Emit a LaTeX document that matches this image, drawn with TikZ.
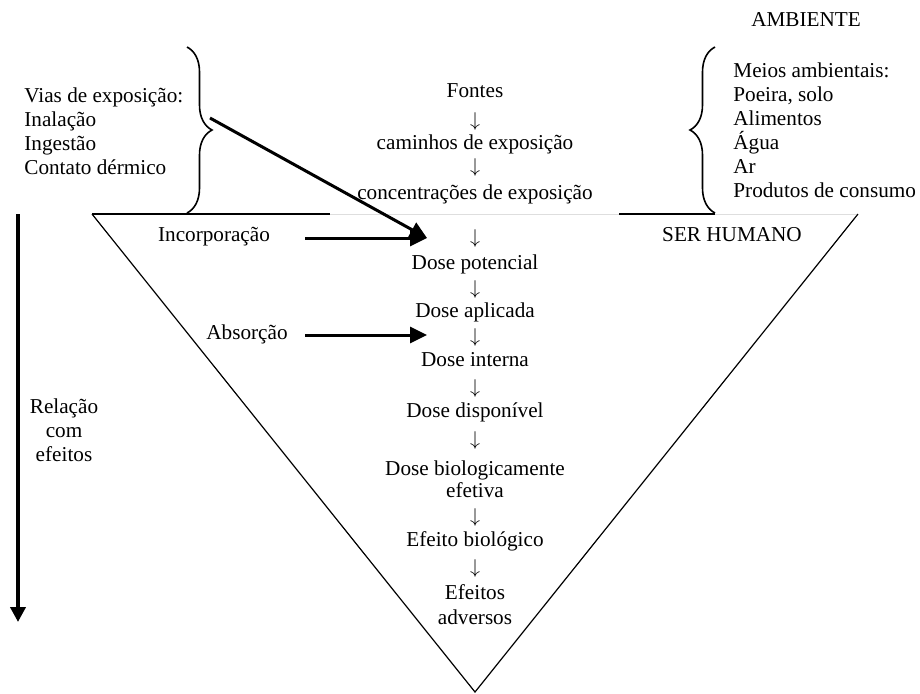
\documentclass[tikz,border=0pt]{standalone}
\usepackage{fontspec}
\setmainfont{Liberation Serif}
\usetikzlibrary{arrows.meta,decorations.pathreplacing}
\begin{document}
\begin{tikzpicture}[x=0.5pt,y=-0.5pt,
  txt/.style={inner sep=0pt, font=\fontsize{10.6}{12}\selectfont,
              text height=0.68em, text depth=0.2em},
  mtxt/.style={inner sep=0pt, font=\fontsize{10.6}{12}\selectfont},
  lbl/.style={mtxt, align=center},
  dn/.style={inner sep=0pt, font=\fontsize{10.4}{12}\selectfont},
  side/.style={line width=0.6pt},
  rim/.style={line width=1pt},
  faint/.style={draw=black!13, line width=0.5pt},
  bracket/.style={line width=0.8pt, decorate,
                  decoration={brace, amplitude=12.5pt}},
  bigarrow/.style={line width=1.5pt, -{Triangle[length=8.5pt,width=8pt]}},
  sidearrow/.style={line width=2pt, -{Triangle[length=7.5pt,width=7.5pt]}}]
\useasboundingbox (0,0) rectangle (920,693);

% inverted triangle for the human body
\coordinate (tl) at (92,214);
\coordinate (tr) at (858,214);
\coordinate (apex) at (475,692);
\coordinate (gapL) at (330,214);
\coordinate (gapR) at (619,214);
\coordinate (braceR) at (715,214);
\draw[faint] (gapL) -- (tr);
\draw[side] (tl) -- (apex) -- (tr);
\draw[rim] (tl) -- (gapL);
\draw[rim] (gapR) -- (braceR);

% braces grouping the routes and the media
\draw[bracket] (187,47) -- (187,213);
\draw[bracket] (715,213) -- (715,47);

% side texts
\node[txt] (amb) at (806,22) {AMBIENTE};
\node[mtxt, align=left, anchor=west] (vias) at (24,131)
  {Vias de exposição:\\Inalação\\Ingestão\\Contato dérmico};
\node[mtxt, align=left, anchor=west] (meios) at (733,130)
  {Meios ambientais:\\Poeira, solo\\Alimentos\\Água\\Ar\\Produtos de consumo};
\node[txt] (ser) at (732,237) {SER HUMANO};
\node[txt] (inc) at (214,237) {Incorporação};
\node[txt] (abs) at (247,335) {Absorção};
\node[lbl] (rel) at (64,430) {Relação\\com\\efeitos};

% central chain
\node[txt] (fontes) at (475,93) {Fontes};
\node[dn] (a1) at (475,121) {$\downarrow$};
\node[txt] (cam) at (475,145) {caminhos de exposição};
\node[dn] (a2) at (475,167) {$\downarrow$};
\node[txt] (conc) at (475,195) {concentrações de exposição};
\node[dn] (a3) at (475,238) {$\downarrow$};
\node[txt] (pot) at (475,265) {Dose potencial};
\node[dn] (a4) at (475,289) {$\downarrow$};
\node[txt] (apl) at (475,313) {Dose aplicada};
\node[dn] (a5) at (475,337) {$\downarrow$};
\node[txt] (int) at (475,362) {Dose interna};
\node[dn] (a6) at (475,388) {$\downarrow$};
\node[txt] (disp) at (475,413) {Dose disponível};
\node[dn] (a7) at (475,440) {$\downarrow$};
\node[lbl, font=\fontsize{10.6}{11}\selectfont] (bio) at (475,479) {Dose biologicamente\\efetiva};
\node[dn] (a8) at (475,517) {$\downarrow$};
\node[txt] (efb) at (475,542) {Efeito biológico};
\node[dn] (a9) at (475,568) {$\downarrow$};
\node[lbl, font=\fontsize{10.6}{12.5}\selectfont] (adv) at (475,605) {Efeitos\\adversos};

% arrows
\coordinate (viaStart) at (210,118);
\coordinate (incTip) at (427,238);
\coordinate (incStart) at (305,238);
\coordinate (absStart) at (305,335);
\coordinate (absTip) at (427,335);
\coordinate (relTop) at (18,214);
\coordinate (relEnd) at (18,622);
\draw[bigarrow] (viaStart) -- (incTip);
\draw[bigarrow] (incStart) -- (incTip);
\draw[bigarrow] (absStart) -- (absTip);
\draw[sidearrow] (relTop) -- (relEnd);
\end{tikzpicture}
\end{document}
